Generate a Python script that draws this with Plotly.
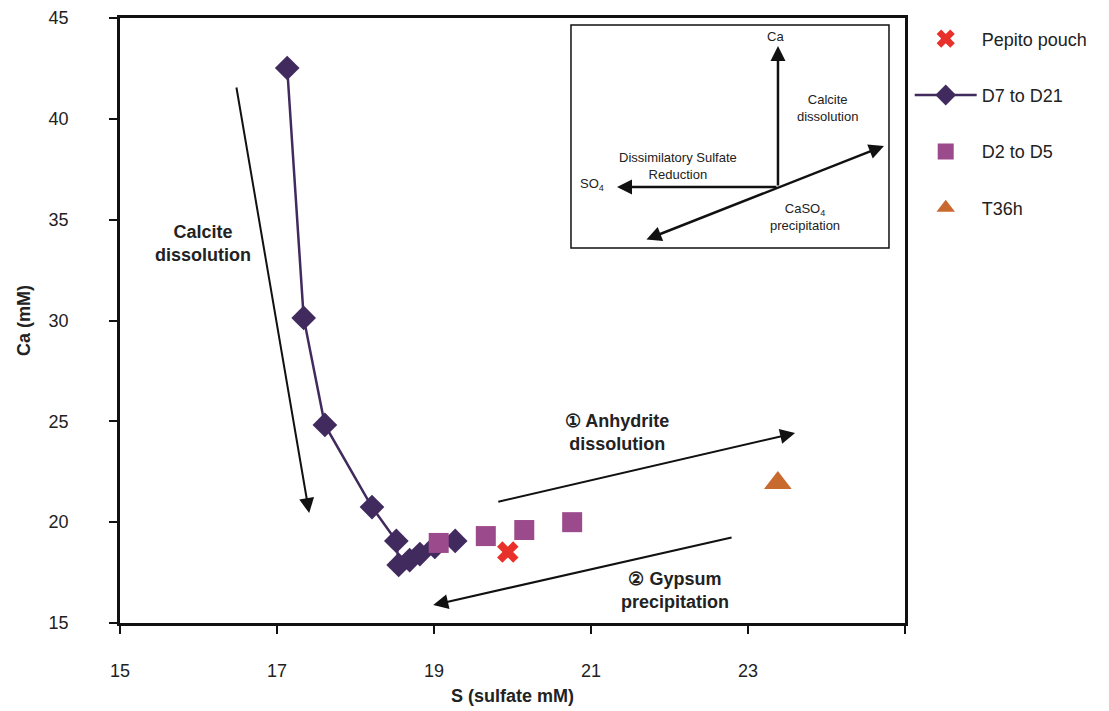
import plotly.graph_objects as go

# ---- data ----
d7_d21_s = [17.13, 17.34, 17.61, 18.21, 18.52, 18.55, 18.69, 18.82, 19.01, 19.27]
d7_d21_ca = [42.52, 30.13, 24.82, 20.75, 19.07, 17.88, 18.12, 18.42, 18.77, 19.07]
d2_d5_s = [19.06, 19.66, 20.15, 20.76]
d2_d5_ca = [18.97, 19.31, 19.61, 20.00]
pepito_s = [19.94]
pepito_ca = [18.52]
t36_s = [23.38]
t36_ca = [21.94]

x_tickvals = [15, 17, 19, 21, 23, 25]
x_ticktext = ["15", "17", "19", "21", "23", ""]
y_tickvals = [15, 20, 25, 30, 35, 40, 45]

FONT = "Liberation Sans, Arial, sans-serif"

fig = go.Figure()
fig.add_trace(go.Scatter(x=pepito_s, y=pepito_ca, mode="markers", name="Pepito pouch",
                         legendgroup="a",
                         marker=dict(symbol="x", size=19, color="#E8312A",
                                     line=dict(width=0))))
fig.add_trace(go.Scatter(x=d7_d21_s, y=d7_d21_ca, mode="lines+markers", name="D7 to D21",
                         legendgroup="b",
                         line=dict(color="#412B5E", width=2.5),
                         marker=dict(symbol="diamond", size=19, color="#412B5E")))
fig.add_trace(go.Scatter(x=d2_d5_s, y=d2_d5_ca, mode="markers", name="D2 to D5",
                         legendgroup="c",
                         marker=dict(symbol="square", size=20, color="#9B4A8C")))
fig.add_trace(go.Scatter(x=t36_s, y=t36_ca, mode="markers", name="T36h",
                         legendgroup="d",
                         marker=dict(symbol="triangle-up", size=24, color="#C8692E")))

ann = []
# main arrows (data coords)
def arrow(x0, y0, x1, y1, w=2, size=1.5):
    return dict(x=x1, y=y1, ax=x0, ay=y0, xref="x", yref="y", axref="x", ayref="y",
                showarrow=True, arrowhead=2, arrowsize=size, arrowwidth=w,
                arrowcolor="#111", text="")

ann.append(arrow(16.48, 41.63, 17.41, 20.45))
ann.append(arrow(19.80, 21.0, 23.6, 24.42))
ann.append(arrow(22.81, 19.26, 18.99, 15.89))

def label(x, y, text, size=18, bold=True, color="#222"):
    t = f"<b>{text}</b>" if bold else text
    return dict(x=x, y=y, xref="paper", yref="paper", text=t, showarrow=False,
                font=dict(size=size, color=color, family=FONT), align="center",
                xanchor="center", yanchor="middle")

ann.append(label(0.1057, 0.628, "Calcite<br>dissolution"))
ann.append(label(0.6331, 0.3157, "① Anhydrite<br>dissolution"))
ann.append(label(0.707, 0.0529, "② Gypsum<br>precipitation"))

# inset arrows (paper + pixel offsets)
def parrow(x, y, ax, ay, both=False):
    d = dict(x=x, y=y, xref="paper", yref="paper", axref="pixel", ayref="pixel",
             ax=ax, ay=ay, showarrow=True, arrowhead=2, arrowsize=1.2, arrowwidth=2.5,
             arrowcolor="#111", text="")
    if both:
        d["arrowside"] = "end+start"
    return d

ann.append(parrow(0.8382, 0.9537, 0, 141))
ann.append(parrow(0.6331, 0.7207, 161, 0))
ann.append(parrow(0.9732, 0.7884, -239, 94, both=True))

ann.append(label(0.8344, 0.9702, "Ca", size=13, bold=False))
ann.append(label(0.9019, 0.8512, "Calcite<br>dissolution", size=13, bold=False))
ann.append(label(0.7108, 0.7554, "Dissimilatory Sulfate<br>Reduction", size=13, bold=False))
ann.append(label(0.6013, 0.724, "SO<sub>4</sub>", size=13, bold=False))
ann.append(label(0.8726, 0.6711, "CaSO<sub>4</sub><br>precipitation", size=13, bold=False))

fig.update_layout(
    width=1101, height=703,
    margin=dict(l=112, r=204, t=10, b=88),
    paper_bgcolor="white", plot_bgcolor="white",
    font=dict(family=FONT, size=18, color="#222"),
    showlegend=True,
    legend=dict(x=1.006, y=0.996, xanchor="left", yanchor="top",
                font=dict(size=18, family=FONT, color="#222"),
                itemwidth=62,
                tracegroupgap=30, bgcolor="rgba(0,0,0,0)"),
    annotations=ann,
    shapes=[dict(type="rect", xref="paper", yref="paper",
                 x0=0.5745, x1=0.9796, y0=0.6198, y1=0.9884,
                 line=dict(color="#111", width=1.5))],
)
fig.update_xaxes(range=[15, 25], tickvals=x_tickvals, ticktext=x_ticktext,
                 automargin=False,
                 showgrid=False, zeroline=False, showline=True, linecolor="#111",
                 linewidth=2.5, mirror=True, ticks="outside", ticklen=8, tickwidth=2,
                 tickcolor="#111", ticklabelstandoff=22,
                 title=dict(text="<b>S (sulfate mM)</b>", font=dict(size=18), standoff=10))
fig.update_yaxes(range=[15, 45], tickvals=y_tickvals,
                 automargin=False,
                 showgrid=False, zeroline=False, showline=True, linecolor="#111",
                 linewidth=2.5, mirror=True, ticks="outside", ticklen=8, tickwidth=2,
                 tickcolor="#111", ticklabelstandoff=37,
                 title=dict(text="<b>Ca (mM)</b>", font=dict(size=18), standoff=14))

fig.write_html("out.html")
